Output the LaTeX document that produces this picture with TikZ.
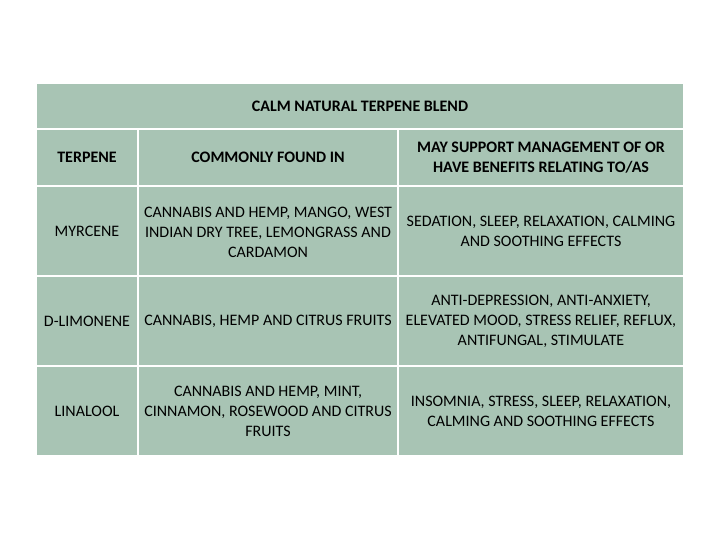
\documentclass[tikz,border=0pt]{standalone}
\usepackage{fontspec}
\setmainfont{Carlito}
\begin{document}
\begin{tikzpicture}[x=1pt,y=-1pt,
  cell/.style={fill=cellgreen,draw=white,line width=1.2pt},
  txt/.style={align=center,font=\fontsize{16}{20}\selectfont,inner sep=0pt,text=black},
  hd/.style={txt,font=\fontsize{16}{20}\selectfont\bfseries}]
\definecolor{cellgreen}{HTML}{A8C4B4}
\useasboundingbox (0,0) rectangle (720,540);
\fill[white] (0,0) rectangle (720,540);
\def\xa{36}\def\xb{138}\def\xc{398}\def\xd{684}
\draw[cell] (\xa,83) rectangle (\xd,129);
\foreach \ya/\yb in {129/186,186/276,276/366,366/456}{
  \draw[cell] (\xa,\ya) rectangle (\xb,\yb);
  \draw[cell] (\xb,\ya) rectangle (\xc,\yb);
  \draw[cell] (\xc,\ya) rectangle (\xd,\yb);
}
\node[hd] (title) at (360,106) {CALM NATURAL TERPENE BLEND};
\node[hd] (h1) at (87,157.5) {TERPENE};
\node[hd] (h2) at (268,157.5) {COMMONLY FOUND IN};
\node[hd] (h3) at (541,157.5) {MAY SUPPORT MANAGEMENT OF OR\\HAVE BENEFITS RELATING TO/AS};
\node[txt] (m1) at (87,231) {MYRCENE};
\node[txt] (m2) at (268,232) {CANNABIS AND HEMP, MANGO, WEST\\INDIAN DRY TREE, LEMONGRASS AND\\CARDAMON};
\node[txt] (m3) at (541,231) {SEDATION, SLEEP, RELAXATION, CALMING\\AND SOOTHING EFFECTS};
\node[txt] (d1) at (87,321) {D-LIMONENE};
\node[txt] (d2) at (268,321) {CANNABIS, HEMP AND CITRUS FRUITS};
\node[txt] (d3) at (541,321) {ANTI-DEPRESSION, ANTI-ANXIETY,\\ELEVATED MOOD, STRESS RELIEF, REFLUX,\\ANTIFUNGAL, STIMULATE};
\node[txt] (l1) at (87,411) {LINALOOL};
\node[txt] (l2) at (268,411) {CANNABIS AND HEMP, MINT,\\CINNAMON, ROSEWOOD AND CITRUS\\FRUITS};
\node[txt] (l3) at (541,411) {INSOMNIA, STRESS, SLEEP, RELAXATION,\\CALMING AND SOOTHING EFFECTS};
\end{tikzpicture}
\end{document}
